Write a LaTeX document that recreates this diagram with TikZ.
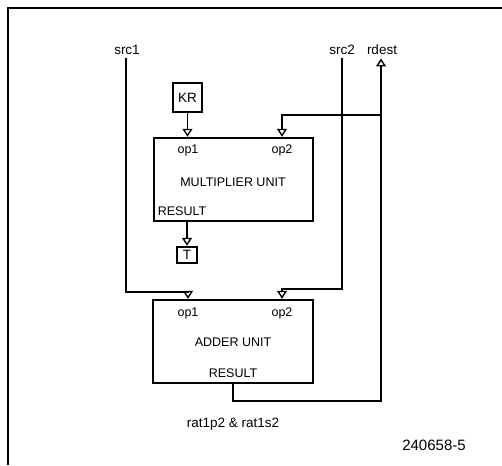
\documentclass[tikz,border=0pt]{standalone}
\usepackage{fontspec}
\setmainfont{Liberation Sans}
\usetikzlibrary{arrows.meta, positioning, calc}

\begin{document}
\begin{tikzpicture}[x=1pt, y=-1pt, font=\fontsize{13.5}{15}\selectfont, align=center,
    unitbox/.style={draw, line width=2.4pt, minimum width=159pt, minimum height=83pt, inner sep=0pt},
    regbox/.style={draw, line width=2.4pt, inner sep=0pt},
    caps/.style={font=\fontsize{12.5}{14}\selectfont},
    wire/.style={line width=1.8pt},
    arr/.style={wire, -{Triangle[open, width=10pt, length=8pt, line width=1.4pt]}}]
    \useasboundingbox (0,0) rectangle (502,465);
    % frame
    \draw[line width=1.2pt] (8,465) -- (8,8) -- (502,8);
    % labels on top
    \node (src1) at (127,50) {src1};
    \node (src2) at (342,50) {src2};
    \node (rdest) at (382,50) {rdest};
    % units
    \node[regbox, minimum width=29pt, minimum height=29pt] (kr) at (187.5,97.5) {KR};
    \node[unitbox] (mul) at (233.5,179.5) {};
    \node[caps] (mop1) at (188,150) {op1};
    \node[caps] (mop2) at (282,150) {op2};
    \node[caps] at (233,182) {MULTIPLIER UNIT};
    \node[caps] at (182,211) {RESULT};
    \node[regbox, minimum width=20pt, minimum height=16pt] (t) at (187,255) {T};
    \node[unitbox, minimum width=160pt] (add) at (233,341.5) {};
    \node[caps] (aop1) at (188,313) {op1};
    \node[caps] (aop2) at (282,313) {op2};
    \node[caps] at (233,342) {ADDER UNIT};
    \node[caps] (res) at (233,373) {RESULT};
    \node at (233,424) {rat1p2 \& rat1s2};
    \node[font=\fontsize{15}{17}\selectfont] at (434,445) {240658-5};
    % turn points
    \coordinate (ret) at (381,401);
    \coordinate (fb) at (381,115);
    % connectors
    \draw[arr] (kr.south) -- (kr.south |- mul.north);
    \draw[arr] (mul.south -| t) -- (t.north);
    \draw[arr] (src1.south -| 126,0) |- ($(aop1 |- add.north)+(0,-7)$) -- (aop1 |- add.north);
    \draw[arr] (src2.south) |- ($(aop2 |- add.north)+(0,-10)$) -- (aop2 |- add.north);
    \draw[arr] (fb) -| (mop2 |- mul.north);
    \draw[arr] (add.south) |- (ret) -- (ret |- rdest.south);
\end{tikzpicture}
\end{document}
